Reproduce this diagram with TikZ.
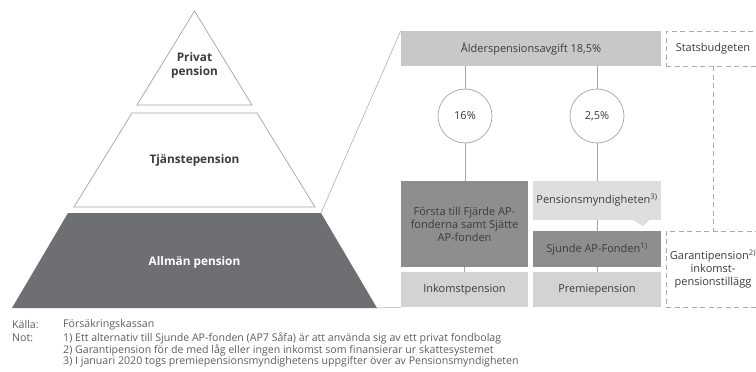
\documentclass[tikz,border=0pt]{standalone}
\usepackage{fontspec}
\setmainfont{Open Sans}
\usepackage{xcolor}

\definecolor{pyrline}{HTML}{A5A5A5}
\definecolor{pyrdark}{HTML}{6E6F72}
\definecolor{txtgray}{HTML}{3C3C3C}
\definecolor{notegray}{HTML}{5E5E5E}
\definecolor{fillmid}{HTML}{8E8E8E}
\definecolor{filltop}{HTML}{C8C8C8}
\definecolor{fillbot}{HTML}{D3D3D3}
\definecolor{fillbub}{HTML}{DEDEDE}
\definecolor{dashgray}{HTML}{AAAAAA}

\tikzset{
  pyr/.style={draw=pyrline, line width=0.7pt, fill=white},
  pyrtext/.style={font=\bfseries\fontsize{11.8}{14}\selectfont, text=txtgray, align=center},
  fbox/.style={draw=none, inner sep=1pt, align=center, text=txtgray,
    font=\fontsize{11}{13}\selectfont},
  dbox/.style={draw=dashgray, line width=0.7pt, dash pattern=on 5pt off 3.5pt,
    inner sep=1pt, align=center, text=txtgray, font=\fontsize{11}{13}\selectfont},
  pct/.style={circle, draw=pyrline, line width=0.7pt, fill=white, minimum size=54pt,
    inner sep=0pt, text=txtgray, font=\fontsize{11}{12}\selectfont},
  link/.style={draw=pyrline, line width=0.7pt},
  note/.style={anchor=west, inner sep=0pt, text=notegray, font=\fontsize{10.6}{12}\selectfont}
}

\begin{document}
\begin{tikzpicture}[x=1pt,y=-1pt]
\clip (0,0) rectangle (756,372);
\fill[white] (0,0) rectangle (756,372);

% pyramid
\draw[pyr] (194.5,11) -- (252,105) -- (137,105) -- cycle;
\draw[pyr] (132,113) -- (257,113) -- (315,207) -- (74,207) -- cycle;
\fill[pyrdark] (68,213) -- (321,213) -- (377,308) -- (12,308) -- cycle;
\node[pyrtext] (privat) at (194.5,65) {Privat\\pension};
\node[pyrtext] (tjanste) at (194.5,160) {Tjänstepension};
\node[pyrtext, text=white] (allman) at (194.5,262) {Allmän pension};

% fee and funds
\node[fbox, fill=filltop, minimum width=260pt, minimum height=35pt] (avgift) at (531,48.5) {Ålderspensionsavgift 18,5\%};
\node[dbox, minimum width=94pt, minimum height=35pt] (stats) at (713,48.5) {Statsbudgeten};
\node[pct] (c16) at (465,116) {16\%};
\node[pct] (c25) at (597,116) {2,5\%};
\node[fbox, fill=fillmid, minimum width=127pt, minimum height=86pt] (forsta) at (464.5,224) {Första till Fjärde AP-\\fonderna samt Sjätte\\AP-fonden};
\node[fbox, fill=fillbot, minimum width=127pt, minimum height=35pt] (inkomst) at (464.5,289.5) {Inkomstpension};
\node[fbox, fill=fillbub, minimum width=128pt, minimum height=39pt] (pm) at (597,200.5) {Pensionsmyndigheten\textsuperscript{3)}};
\fill[fillbub] ([xshift=-28pt]pm.south east) -- ([xshift=-18pt,yshift=-6pt]pm.south east) -- ([xshift=-12pt]pm.south east) -- cycle;
\node[fbox, fill=fillmid, minimum width=128pt, minimum height=36pt] (sjunde) at (597,249) {Sjunde AP-Fonden\textsuperscript{1)}};
\node[fbox, fill=fillbot, minimum width=128pt, minimum height=35pt] (premie) at (597,289.5) {Premiepension};
\node[dbox, minimum width=94pt, minimum height=76pt] (garanti) at (713,269) {Garantipension\textsuperscript{2)}\\inkomst-\\pensionstillägg};

% connectors
\draw[link] (avgift.south -| c16) -- (c16.north);
\draw[link] (c16.south) -- (forsta.north -| c16);
\draw[link] (forsta.south) -- (inkomst.north);
\draw[link] (avgift.south -| c25) -- (c25.north);
\draw[link] (c25.south) -- (pm.north);
\draw[link] (pm.south) -- (sjunde.north);
\draw[link] (sjunde.south) -- (premie.north);
\draw[draw=dashgray, line width=0.7pt, dash pattern=on 5pt off 3.5pt] (stats.south) -- (garanti.north);
\draw[link, line width=0.5pt] (321,213) -- (avgift.north west);
\draw[link, line width=0.5pt] (377,308) -- (inkomst.south west);

% notes
\node[note] (kalla) at (12,325) {Källa:};
\node[note] (kallatxt) at (63,325) {Försäkringskassan};
\node[note] (not) at (12,338) {Not:};
\node[note] (not1) at (63,338) {1) Ett alternativ till Sjunde AP-fonden (AP7 Såfa) är att använda sig av ett privat fondbolag};
\node[note] (not2) at (63,350) {2) Garantipension för de med låg eller ingen inkomst som finansierar ur skattesystemet};
\node[note] (not3) at (63,362) {3) I januari 2020 togs premiepensionsmyndighetens uppgifter över av Pensionsmyndigheten};
\end{tikzpicture}
\end{document}
